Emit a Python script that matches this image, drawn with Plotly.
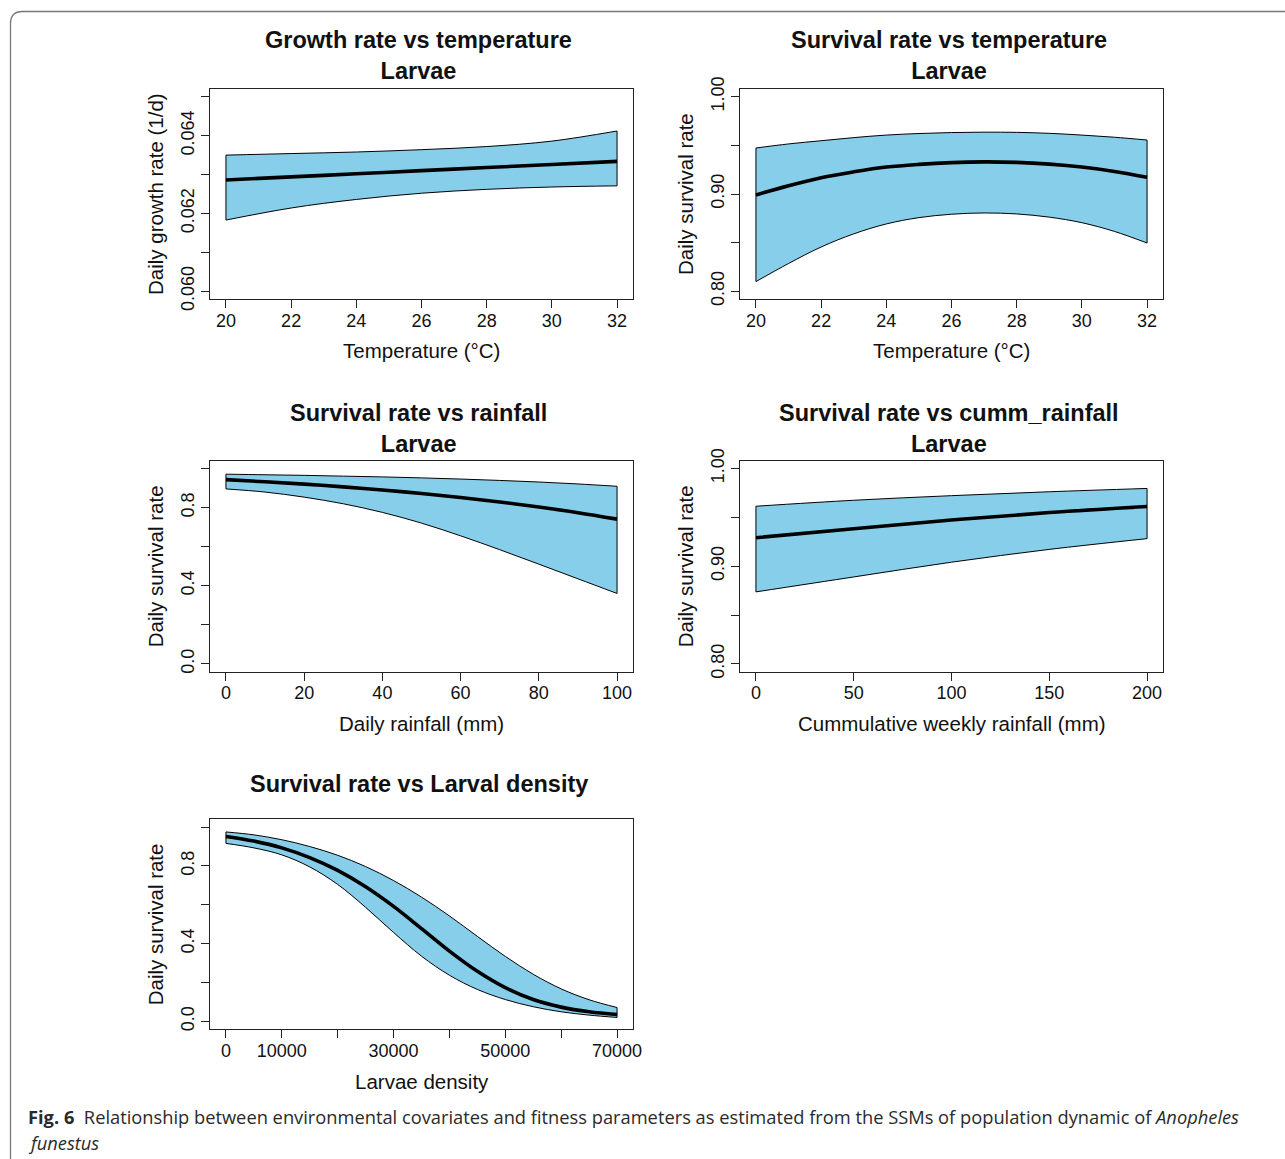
import plotly.graph_objects as go

W, H = 1285, 1159

# ---- Growth rate vs temperature (larvae) ----
temp_g = [20, 22, 24, 26, 28, 30, 32]
growth_mean = [0.06286, 0.06294, 0.06302, 0.06310, 0.06318, 0.06326, 0.06334]
growth_upper = [0.06350, 0.06354, 0.06358, 0.06364, 0.06372, 0.06386, 0.06412]
growth_lower = [0.06183, 0.06214, 0.06236, 0.06252, 0.06262, 0.06268, 0.06271]

# ---- Survival rate vs temperature (larvae) ----
temp_s = [20, 21, 22, 23, 24, 25, 26, 27, 28, 29, 30, 31, 32]
surv_t_mean = [0.8990, 0.9085, 0.9168, 0.9228, 0.9277, 0.9305, 0.9323, 0.9330,
               0.9325, 0.9307, 0.9277, 0.9232, 0.9172]
surv_t_upper = [0.9473, 0.9515, 0.9548, 0.9580, 0.9606, 0.9622, 0.9632, 0.9636,
                0.9634, 0.9624, 0.9606, 0.9584, 0.9555]
surv_t_lower = [0.8099, 0.8285, 0.8455, 0.8590, 0.8692, 0.8757, 0.8792, 0.8805,
                0.8795, 0.8762, 0.8705, 0.8615, 0.8496]

# ---- Survival rate vs daily rainfall ----
rain = [0, 10, 20, 30, 40, 50, 60, 70, 80, 90, 100]
surv_r_mean = [0.943, 0.932, 0.920, 0.906, 0.890, 0.872, 0.852, 0.829, 0.803, 0.774, 0.741]
surv_r_upper = [0.971, 0.968, 0.965, 0.961, 0.957, 0.952, 0.946, 0.939, 0.931, 0.921, 0.909]
surv_r_lower = [0.8955, 0.8795, 0.8535, 0.8195, 0.7755, 0.7205, 0.6555, 0.5845, 0.5105,
                0.4355, 0.3605]

# ---- Survival rate vs cumulative weekly rainfall ----
cumrain = [0, 50, 100, 150, 200]
surv_c_mean = [0.9292, 0.9383, 0.9473, 0.9549, 0.9611]
surv_c_upper = [0.9614, 0.9675, 0.9722, 0.9762, 0.9796]
surv_c_lower = [0.8737, 0.8890, 0.9041, 0.9172, 0.9282]

# ---- Survival rate vs larval density ----
density = [0, 5000, 10000, 15000, 20000, 25000, 30000, 35000, 40000,
           45000, 50000, 55000, 60000, 65000, 70000]
surv_d_mean = [0.952, 0.928, 0.893, 0.843, 0.777, 0.693, 0.592, 0.478, 0.362,
               0.258, 0.174, 0.113, 0.074, 0.050, 0.036]
surv_d_upper = [0.975, 0.960, 0.935, 0.900, 0.855, 0.797, 0.725, 0.640, 0.543,
                0.438, 0.335, 0.243, 0.168, 0.112, 0.072]
surv_d_lower = [0.916, 0.893, 0.857, 0.795, 0.705, 0.587, 0.458, 0.336, 0.238,
                0.165, 0.113, 0.076, 0.050, 0.033, 0.021]

# tick definitions
ticks_temp = [20, 22, 24, 26, 28, 30, 32]
ticks_rain = [0, 20, 40, 60, 80, 100]
ticks_cum = [0, 50, 100, 150, 200]
ticks_dens = [0, 10000, 20000, 30000, 40000, 50000, 60000, 70000]
ticklab_dens = ["0", "10000", "", "30000", "", "50000", "", "70000"]
ticks_growth = [0.060, 0.061, 0.062, 0.063, 0.064, 0.065]
ticklab_growth = ["0.060", "", "0.062", "", "0.064", ""]
ticks_s2 = [0.80, 0.85, 0.90, 0.95, 1.00]
ticklab_s2 = ["0.80", "", "0.90", "", "1.00"]
ticks_s1 = [0.0, 0.2, 0.4, 0.6, 0.8, 1.0]
ticklab_s1 = ["0.0", "", "0.4", "", "0.8", ""]

FILL = "#87CEEB"
FONT = "Liberation Sans, Arial, sans-serif"


def px_x(p):
    return p / W


def px_y(p):
    return 1 - p / H


panels = [
    dict(x=temp_g, m=growth_mean, u=growth_upper, l=growth_lower,
         box=(210.3, 632.7, 89, 299), xr=[19.52, 32.48], yr=[0.0598, 0.0652],
         xt=ticks_temp, xtl=[str(v) for v in ticks_temp],
         yt=ticks_growth, ytl=ticklab_growth,
         title="<b>Growth rate vs temperature</b><br><b>Larvae</b>", ty=55.5,
         xlab="Temperature (°C)", ylab="Daily growth rate (1/d)", ylx=155),
    dict(x=temp_s, m=surv_t_mean, u=surv_t_upper, l=surv_t_lower,
         box=(740.3, 1162.7, 89, 299), xr=[19.52, 32.48], yr=[0.792, 1.008],
         xt=ticks_temp, xtl=[str(v) for v in ticks_temp],
         yt=ticks_s2, ytl=ticklab_s2,
         title="<b>Survival rate vs temperature</b><br><b>Larvae</b>", ty=55.5,
         xlab="Temperature (°C)", ylab="Daily survival rate", ylx=685),
    dict(x=rain, m=surv_r_mean, u=surv_r_upper, l=surv_r_lower,
         box=(210.3, 632.7, 460.7, 671.7), xr=[-4, 104], yr=[-0.04, 1.04],
         xt=ticks_rain, xtl=[str(v) for v in ticks_rain],
         yt=ticks_s1, ytl=ticklab_s1,
         title="<b>Survival rate vs rainfall</b><br><b>Larvae</b>", ty=428.5,
         xlab="Daily rainfall (mm)", ylab="Daily survival rate", ylx=155),
    dict(x=cumrain, m=surv_c_mean, u=surv_c_upper, l=surv_c_lower,
         box=(740.3, 1162.7, 460.7, 671.7), xr=[-8, 208], yr=[0.792, 1.008],
         xt=ticks_cum, xtl=[str(v) for v in ticks_cum],
         yt=ticks_s2, ytl=ticklab_s2,
         title="<b>Survival rate vs cumm_rainfall</b><br><b>Larvae</b>", ty=428.5,
         xlab="Cummulative weekly rainfall (mm)", ylab="Daily survival rate", ylx=685),
    dict(x=density, m=surv_d_mean, u=surv_d_upper, l=surv_d_lower,
         box=(210.3, 632.7, 819.3, 1029.3), xr=[-2800, 72800], yr=[-0.04, 1.04],
         xt=ticks_dens, xtl=ticklab_dens,
         yt=ticks_s1, ytl=ticklab_s1,
         title="<b>Survival rate vs Larval density</b>", ty=784,
         xlab="Larvae density", ylab="Daily survival rate", ylx=155),
]

fig = go.Figure()
annotations = []
layout_axes = {}

for i, p in enumerate(panels, start=1):
    xa = "x" if i == 1 else f"x{i}"
    ya = "y" if i == 1 else f"y{i}"
    x0, x1, yt0, yb0 = p["box"]

    # confidence band: invisible lower edge, upper edge filled down to it
    fig.add_trace(go.Scatter(x=p["x"], y=p["l"], mode="lines",
                             line=dict(width=0, shape="spline", color=FILL),
                             xaxis=xa, yaxis=ya, hoverinfo="skip"))
    fig.add_trace(go.Scatter(x=p["x"], y=p["u"], mode="lines", fill="tonexty",
                             fillcolor=FILL,
                             line=dict(width=0, shape="spline", color=FILL),
                             xaxis=xa, yaxis=ya, hoverinfo="skip"))
    # band outline
    for edge in (p["l"], p["u"]):
        fig.add_trace(go.Scatter(x=p["x"], y=edge, mode="lines",
                                 line=dict(width=1, shape="spline", color="black"),
                                 xaxis=xa, yaxis=ya, hoverinfo="skip"))
    fig.add_trace(go.Scatter(
        x=[p["x"][0], p["x"][0], None, p["x"][-1], p["x"][-1]],
        y=[p["l"][0], p["u"][0], None, p["l"][-1], p["u"][-1]],
        mode="lines", line=dict(width=1, color="black"),
        xaxis=xa, yaxis=ya, hoverinfo="skip"))
    # fitted mean
    fig.add_trace(go.Scatter(x=p["x"], y=p["m"], mode="lines",
                             line=dict(width=3.6, shape="spline", color="black"),
                             xaxis=xa, yaxis=ya, hoverinfo="skip"))

    common = dict(showline=True, mirror=True, linecolor="#222", linewidth=1.3,
                  ticks="outside", ticklen=8, tickwidth=1.1, tickcolor="#222",
                  showgrid=False, zeroline=False, fixedrange=True, automargin=False,
                  tickfont=dict(family=FONT, size=18, color="#111"))
    layout_axes["xaxis" if i == 1 else f"xaxis{i}"] = dict(
        domain=[px_x(x0), px_x(x1)], anchor=ya, range=p["xr"],
        tickmode="array", tickvals=p["xt"], ticktext=p["xtl"],
        ticklabelstandoff=-3, **common)
    layout_axes["yaxis" if i == 1 else f"yaxis{i}"] = dict(
        domain=[px_y(yb0), px_y(yt0)], anchor=xa, range=p["yr"],
        tickmode="array", tickvals=p["yt"], ticktext=p["ytl"], tickangle=-90,
        **common)

    cx = (x0 + x1) / 2
    cy = (yt0 + yb0) / 2
    annotations.append(dict(text=p["title"], x=px_x(cx - 3), y=px_y(p["ty"]),
                            xref="paper", yref="paper", showarrow=False,
                            xanchor="center", yanchor="middle",
                            font=dict(family=FONT, size=23.5, color="#111")))
    annotations.append(dict(text=p["xlab"], x=px_x(cx), y=px_y(yb0 + 52),
                            xref="paper", yref="paper", showarrow=False,
                            xanchor="center", yanchor="middle",
                            font=dict(family=FONT, size=20.5, color="#111")))
    annotations.append(dict(text=p["ylab"], x=px_x(p["ylx"]), y=px_y(cy),
                            xref="paper", yref="paper", showarrow=False,
                            xanchor="center", yanchor="middle", textangle=-90,
                            font=dict(family=FONT, size=20.5, color="#111")))

# figure caption
CAP_FONT = "Open Sans, Lato, sans-serif"
annotations.append(dict(
    text="<b>Fig. 6</b>\u00a0\u00a0Relationship between environmental covariates and fitness "
         "parameters as estimated from the SSMs of population dynamic of <i>Anopheles</i>",
    x=px_x(26), y=px_y(1116), xref="paper", yref="paper", showarrow=False,
    xanchor="left", yanchor="middle",
    font=dict(family=CAP_FONT, size=18.3, color="#2a2a2a")))
annotations.append(dict(
    text="<i>funestus</i>",
    x=px_x(26), y=px_y(1142), xref="paper", yref="paper", showarrow=False,
    xanchor="left", yanchor="middle",
    font=dict(family=CAP_FONT, size=18.3, color="#2a2a2a")))

# rounded frame around the figure (open at right and bottom)
bx, by, r = 10.5, 11.5, 12
frame = (f"M {px_x(bx)},{px_y(H + 5)} L {px_x(bx)},{px_y(by + r)} "
         f"Q {px_x(bx)},{px_y(by)} {px_x(bx + r)},{px_y(by)} L {px_x(W + 5)},{px_y(by)}")

fig.update_layout(
    template="none",
    width=W, height=H, margin=dict(l=0, r=0, t=0, b=0, pad=0, autoexpand=False),
    paper_bgcolor="white", plot_bgcolor="white", showlegend=False,
    annotations=annotations,
    shapes=[dict(type="path", path=frame, xref="paper", yref="paper",
                 line=dict(color="#777", width=1.3))],
    **layout_axes)

fig.write_html("out.html")
